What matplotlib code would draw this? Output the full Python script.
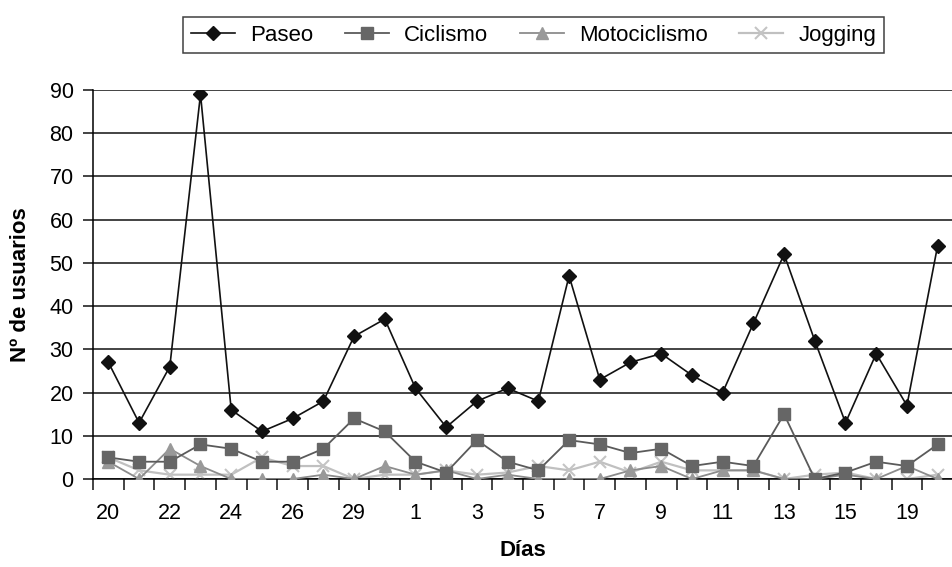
import numpy as np
import matplotlib
matplotlib.use("Agg")
import matplotlib.pyplot as plt

plt.rcParams['font.family'] = ['Liberation Sans', 'DejaVu Sans']

# days (only every other one is labelled on the axis)
dias = ['20', '21', '22', '23', '24', '25', '26', '28', '29', '30',
        '1', '2', '3', '4', '5', '6', '7', '8', '9', '10',
        '11', '12', '13', '14', '15', '17', '19', '20']

paseo = [27, 13, 26, 89, 16, 11, 14, 18, 33, 37, 21, 12, 18, 21,
         18, 47, 23, 27, 29, 24, 20, 36, 52, 32, 13, 29, 17, 54]
ciclismo = [5, 4, 4, 8, 7, 4, 4, 7, 14, 11, 4, 1.5, 9, 4,
            2, 9, 8, 6, 7, 3, 4, 3, 15, 0, 1.5, 4, 3, 8]
motociclismo = [4, 0, 7, 3, 0, 0, 0, 1, 0, 3, 1, 2, 0, 1,
                0, 0, 0, 2, 3, 0, 2, 2, 0, 0, 1, 0, 3, 0]
jogging = [5, 2, 1, 1, 1, 5, 3, 3, 0, 1, 1, 2, 1, 1.5,
           3, 2, 4, 1.5, 4, 2, 2, 2, 0, 1, 1.5, 0, 0, 1]

x = np.arange(len(dias))

fig = plt.figure(figsize=(9.53, 5.67), dpi=100)
ax = fig.add_axes([93 / 953, 1 - 479 / 567, 1 - 93 / 953, (479 - 90) / 567])

ax.plot(x, paseo, color='#111111', lw=1.2, marker='D', ms=7,
        mfc='#111111', mec='#111111', label='Paseo', zorder=5)
ax.plot(x, ciclismo, color='#5a5a5a', lw=1.3, marker='s', ms=8.5,
        mfc='#666666', mec='#666666', label='Ciclismo', zorder=4)
ax.plot(x, motociclismo, color='#8c8c8c', lw=1.3, marker='^', ms=9,
        mfc='#999999', mec='#999999', label='Motociclismo', zorder=3)
ax.plot(x, jogging, color='#c0c0c0', lw=1.6, marker='x', ms=8, mew=1.5,
        mec='#c4c4c4', label='Jogging', zorder=2)

ax.set_xlim(-0.5, len(dias) - 0.5)
ax.set_ylim(0, 90)
ax.set_yticks(range(0, 91, 10))
ax.yaxis.grid(True, color='#111111', lw=1.1)
ax.set_axisbelow(True)

ax.set_xticks(x[::2], dias[::2])
ax.set_xticks(np.arange(-0.5, len(dias), 1), minor=True)
ax.tick_params(axis='x', which='major', length=0, pad=17, labelsize=15.5)
ax.tick_params(axis='x', which='minor', length=8, width=1.1, color='#111111')
ax.tick_params(axis='y', length=7, width=1.1, color='#111111', labelsize=15.5, pad=7)

for s in ['top', 'right']:
    ax.spines[s].set_visible(False)
ax.spines['left'].set_linewidth(1.1)
ax.spines['bottom'].set_linewidth(1.1)

ax.set_xlabel('Días', fontsize=16, fontweight='bold', labelpad=12)
ax.set_ylabel('Nº de usuarios', fontsize=16, fontweight='bold', labelpad=13)

leg = fig.legend(loc='center', bbox_to_anchor=(0.560, 0.938), ncol=4,
                 fontsize=16, frameon=True, fancybox=False,
                 handlelength=2.0, columnspacing=1.4, handletextpad=0.68,
                 borderpad=0.35)
leg.get_frame().set_edgecolor('#111111')
leg.get_frame().set_linewidth(1.1)

fig.savefig('out.png', dpi=100)
